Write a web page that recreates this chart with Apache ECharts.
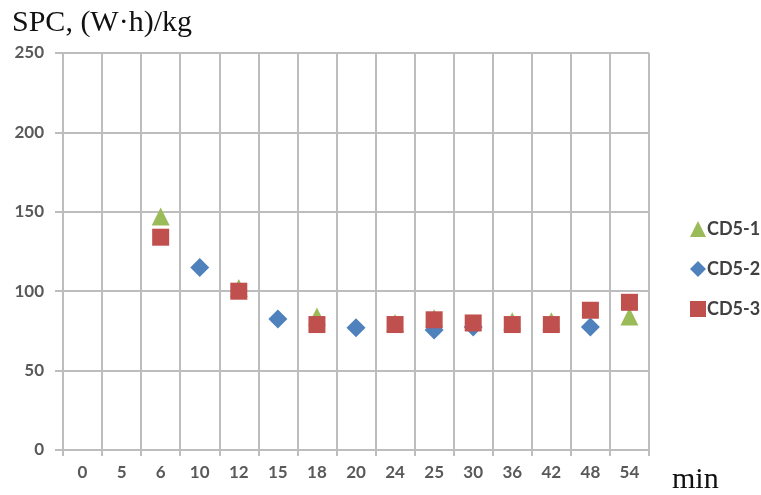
<!DOCTYPE html>
<html>
<head>
<meta charset="utf-8">
<script src="https://cdn.jsdelivr.net/npm/echarts@6/dist/echarts.min.js"></script>
<style>html,body{margin:0;padding:0;background:#fff}#c{width:761px;height:495px}</style>
</head>
<body>
<div id="c"></div>
<script>
var categories = ['0','5','6','10','12','15','18','20','24','25','30','36','42','48','54'];
var cd51 = [null,null,147,null,102,null,84,null,80,83,null,81,81,null,84];
var cd52 = [null,null,null,115,null,82.5,null,77,null,75.5,77.5,null,null,77.5,null];
var cd53 = [null,null,134,null,100,null,79,null,79,82,80,79,79,88,93];
var yTicks = [0,50,100,150,200,250];

var gridColor = '#bdbdbd';
var labelFont = {color:'#595959', fontFamily:'Lato', fontWeight:'bold', fontSize:17};
var chart = echarts.init(document.getElementById('c'), null, {renderer:'canvas'});
chart.setOption({
  animation:false,
  backgroundColor:'#fff',
  title:[
    {text:'SPC, (W·h)/kg', left:7, top:3, textStyle:{fontFamily:'Liberation Serif', fontWeight:'normal', fontSize:30, color:'#111'}},
    {text:'min', left:667, top:460, textStyle:{fontFamily:'Liberation Serif', fontWeight:'normal', fontSize:30, color:'#111'}}
  ],
  grid:{left:63, right:112, top:53, bottom:45, containLabel:false},
  legend:{
    orient:'vertical', left:685, top:215, itemGap:22, itemWidth:16, itemHeight:16,
    textStyle:{color:'#404040', fontFamily:'Lato', fontWeight:'bold', fontSize:18, padding:[0,0,0,-4]},
    data:[{name:'CD5-1', icon:'triangle'},{name:'CD5-2', icon:'diamond'},{name:'CD5-3', icon:'rect'}]
  },
  xAxis:{
    type:'category', data:categories, boundaryGap:true,
    axisLine:{lineStyle:{color:gridColor, width:2}},
    axisTick:{show:true, length:6, alignWithLabel:false, lineStyle:{color:gridColor, width:2}},
    splitLine:{show:true, lineStyle:{color:gridColor, width:2}},
    axisLabel:Object.assign({margin:14, interval:0}, labelFont)
  },
  yAxis:{
    type:'value', min:yTicks[0], max:yTicks[yTicks.length-1], interval:50,
    axisLine:{show:true, lineStyle:{color:gridColor, width:2}},
    axisTick:{show:true, length:8, lineStyle:{color:gridColor, width:2}},
    splitLine:{show:true, lineStyle:{color:gridColor, width:2}},
    axisLabel:Object.assign({margin:19}, labelFont)
  },
  series:[
    {name:'CD5-1', type:'scatter', symbol:'triangle', symbolSize:18, data:cd51, itemStyle:{color:'#9BBB59', opacity:1}},
    {name:'CD5-2', type:'scatter', symbol:'diamond', symbolSize:19, data:cd52, itemStyle:{color:'#4F81BD', opacity:1}},
    {name:'CD5-3', type:'scatter', symbol:'rect', symbolSize:17, data:cd53, itemStyle:{color:'#C0504D', opacity:1}}
  ]
});
</script>
</body>
</html>
